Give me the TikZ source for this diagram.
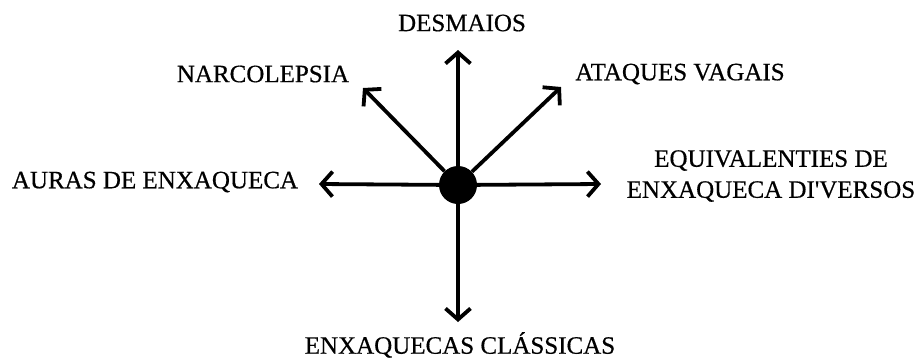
\documentclass[tikz,border=0pt]{standalone}
\usepackage{fontspec}
\setmainfont{Liberation Serif}
\usetikzlibrary{arrows.meta}

\begin{document}
\begin{tikzpicture}[x=1pt, y=-1pt,
  lbl/.style={font=\fontsize{25}{31}\selectfont\addfontfeatures{FakeBold=0.5}, inner sep=0pt, align=center},
  ray/.style={line width=3.8pt, -{Straight Barb[length=11pt, width=25pt]}}]
\useasboundingbox (0,0) rectangle (922,360);
\node[circle, fill=black, minimum size=38pt, inner sep=0pt] (hub) at (458,185) {};
% arrow tips
\coordinate (up) at (458,50);
\coordinate (nw) at (363,88);
\coordinate (ne) at (561,87);
\coordinate (lt) at (319,184);
\coordinate (rt) at (601,184);
\coordinate (dn) at (458,322);
\foreach \t in {up, nw, ne, lt, rt, dn}
  \draw[ray] (hub) -- (\t);
% labels
\node[lbl] (desm) at (462,23) {DESMAIOS};
\node[lbl] (narc) at (263,74) {NARCOLEPSIA};
\node[lbl] (ataq) at (680,74) {ATAQUES VAGAIS};
\node[lbl] (aura) at (155,182) {AURAS DE ENXAQUECA};
\node[lbl] (equi) at (771,176) {EQUIVALENTIES DE\\ENXAQUECA DI\textquotesingle VERSOS};
\node[lbl] (clas) at (460,345) {ENXAQUECAS CLÁSSICAS};
\end{tikzpicture}
\end{document}
